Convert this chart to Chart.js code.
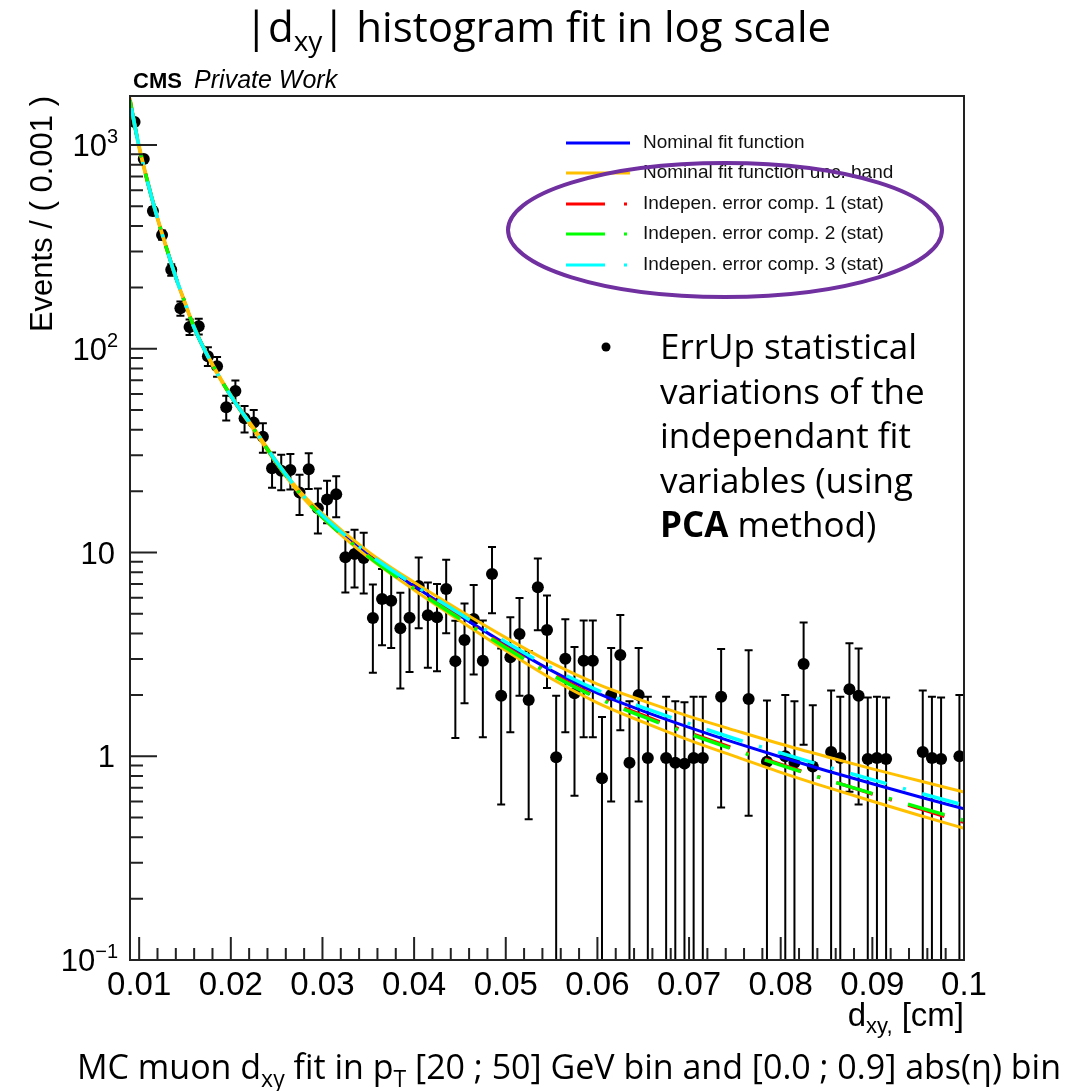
<!DOCTYPE html>
<html>
<head>
<meta charset="utf-8">
<title>|dxy| histogram fit in log scale</title>
<script src="https://cdn.jsdelivr.net/npm/chart.js@4.4.1/dist/chart.umd.min.js"></script>
<style>
  html, body { margin: 0; padding: 0; background: #fff; }
</style>
</head>
<body>
<canvas id="fitChart" width="1081" height="1091"></canvas>
<script>
// non-empty |dxy| bins (bin width 0.001 cm): centre, content, stat. error
const dxyBins = [
    0.0095, 0.0105, 0.0115, 0.0125, 0.0135, 0.0145, 0.0155, 0.0165, 0.0175, 0.0185,
    0.0195, 0.0205, 0.0215, 0.0225, 0.0235, 0.0245, 0.0255, 0.0265, 0.0275, 0.0285,
    0.0295, 0.0305, 0.0315, 0.0325, 0.0335, 0.0345, 0.0355, 0.0365, 0.0375, 0.0385,
    0.0395, 0.0405, 0.0415, 0.0425, 0.0435, 0.0445, 0.0455, 0.0465, 0.0475, 0.0485,
    0.0495, 0.0505, 0.0515, 0.0525, 0.0535, 0.0545, 0.0555, 0.0565, 0.0575, 0.0585,
    0.0595, 0.0605, 0.0615, 0.0625, 0.0635, 0.0645, 0.0655, 0.0675, 0.0685, 0.0695,
    0.0705, 0.0715, 0.0735, 0.0765, 0.0785, 0.0805, 0.0815, 0.0825, 0.0835, 0.0855,
    0.0865, 0.0875, 0.0885, 0.0895, 0.0905, 0.0915, 0.0955, 0.0965, 0.0975, 0.0995
];
const events = [
    1297, 853, 474, 362, 244, 158, 128, 129, 92, 82,
    51.6, 62, 45.6, 43.4, 37, 25.9, 25.2, 25.4, 19.7, 25.6,
    16.5, 18.2, 19.3, 9.47, 9.83, 9.4, 4.77, 5.91, 5.8, 4.25,
    4.79, 6.85, 4.92, 4.81, 6.62, 2.93, 3.72, 4.72, 2.94, 7.84,
    1.98, 3.06, 3.98, 1.89, 6.75, 4.16, 0.99, 3.01, 2.04, 2.94,
    2.94, 0.78, 2.0, 3.14, 0.93, 2.0, 0.98, 0.98, 0.93, 0.92,
    0.98, 0.98, 1.96, 1.91, 0.94, 1.0, 0.93, 2.84, 0.89, 1.05,
    0.98, 2.13, 1.98, 0.97, 0.98, 0.97, 1.05, 0.98, 0.97, 1.0
];
const eventErr = [
    36, 29, 22, 19, 15.6, 12.6, 11.3, 11.4, 9.6, 9.1,
    7.2, 7.9, 6.8, 6.6, 6.1, 5.1, 5.0, 5.0, 4.4, 5.1,
    4.1, 4.3, 4.4, 3.1, 3.1, 3.1, 2.2, 2.4, 2.4, 2.1,
    2.2, 2.6, 2.2, 2.2, 2.6, 1.7, 1.9, 2.2, 1.7, 2.8,
    1.4, 1.75, 2.0, 1.4, 2.6, 2.0, 0.99, 1.7, 1.4, 1.7,
    1.7, 0.78, 1.4, 1.8, 0.93, 1.4, 0.98, 0.98, 0.93, 0.92,
    0.98, 0.98, 1.4, 1.4, 0.94, 1.0, 0.93, 1.7, 0.89, 1.05,
    0.98, 1.46, 1.4, 0.97, 0.98, 0.97, 1.05, 0.98, 0.97, 1.0
];

// fit curves sampled along dxy
const fitX = [0.009, 0.0095, 0.010, 0.011, 0.012, 0.013, 0.014, 0.015, 0.016, 0.0175,
    0.020, 0.0225, 0.025, 0.0275, 0.030, 0.035, 0.040, 0.045, 0.050, 0.055,
    0.060, 0.065, 0.070, 0.075, 0.080, 0.085, 0.090, 0.095, 0.100];
const nominalFit = [1660, 1259, 977, 638, 437, 310, 224, 168, 127, 91.8,
    58.7, 40.5, 27.7, 19.8, 15.1, 9.77, 6.84, 4.90, 3.55, 2.63,
    2.04, 1.667, 1.387, 1.167, 0.991, 0.849, 0.733, 0.635, 0.552];
const bandUp = [1706, 1291, 1000, 650, 444, 315, 226, 170, 129, 92.9,
    59.4, 41.0, 28.1, 20.1, 15.5, 10.1, 7.14, 5.19, 3.82, 2.87,
    2.26, 1.87, 1.57, 1.34, 1.148, 0.995, 0.867, 0.760, 0.667];
const bandDown = [1614, 1227, 955, 627, 430, 306, 221, 166, 126, 90.8,
    58.1, 39.9, 27.2, 19.4, 14.8, 9.46, 6.55, 4.62, 3.30, 2.40,
    1.83, 1.47, 1.20, 0.998, 0.834, 0.705, 0.601, 0.515, 0.443];
const errComp1 = [1660, 1259, 977, 638, 437, 310, 224, 168, 127, 91.8,
    58.7, 40.4, 27.6, 19.7, 14.96, 9.64, 6.71, 4.79, 3.45, 2.54,
    1.957, 1.585, 1.306, 1.087, 0.912, 0.769, 0.653, 0.556, 0.474];
const errComp2 = [1660, 1259, 977, 638, 437, 310, 224, 168, 127, 91.8,
    58.7, 40.4, 27.6, 19.6, 14.9, 9.57, 6.65, 4.73, 3.41, 2.51,
    1.93, 1.563, 1.289, 1.074, 0.904, 0.767, 0.656, 0.563, 0.485];
const errComp3 = [1660, 1259, 977, 638, 437, 310, 224, 168, 127, 91.8,
    58.7, 40.6, 27.8, 19.9, 15.2, 9.88, 6.95, 5.00, 3.64, 2.71,
    2.11, 1.734, 1.446, 1.219, 1.038, 0.889, 0.768, 0.663, 0.575];

// axes
const xTicks = [0.01, 0.02, 0.03, 0.04, 0.05, 0.06, 0.07, 0.08, 0.09, 0.1];
const xTickLabels = ['0.01', '0.02', '0.03', '0.04', '0.05', '0.06', '0.07', '0.08', '0.09', '0.1'];
const yDecades = [0.1, 1, 10, 100, 1000];
const yDecadeLabels = [['10', '\u22121'], ['1', ''], ['10', ''], ['10', '2'], ['10', '3']];

const legendLabels = [
    'Nominal fit function',
    'Nominal fit function unc. band',
    'Indepen. error comp. 1 (stat)',
    'Indepen. error comp. 2 (stat)',
    'Indepen. error comp. 3 (stat)'
];
const noteLines = ['ErrUp statistical', 'variations of the', 'independant fit', 'variables (using', 'method)'];

const ROOT_FONT = '"Liberation Sans", Arial, sans-serif';
const SLIDE_FONT = '"Open Sans", "Noto Sans", sans-serif';
const COMP_DASH = [38, 17, 3, 17];

const pairs = (xs, ys) => xs.map((x, i) => ({ x: x, y: ys[i] }));

// draws a run of text pieces (sub/superscripts as separate pieces)
function drawPieces(ctx, pieces, x, y, align) {
    let width = 0;
    pieces.forEach(p => {
        ctx.font = p.font;
        width += ctx.measureText(p.text).width;
    });
    let cx = align === 'right' ? x - width : align === 'center' ? x - width / 2 : x;
    pieces.forEach(p => {
        ctx.font = p.font;
        ctx.fillText(p.text, cx, y + (p.dy || 0));
        cx += ctx.measureText(p.text).width;
    });
    return width;
}

const errorBars = {
    id: 'errorBars',
    beforeDatasetsDraw(chart) {
        const { ctx, chartArea, scales: { x, y } } = chart;
        ctx.save();
        ctx.beginPath();
        ctx.rect(chartArea.left, chartArea.top, chartArea.right - chartArea.left, chartArea.bottom - chartArea.top);
        ctx.clip();
        ctx.strokeStyle = '#000';
        ctx.lineWidth = 2;
        dxyBins.forEach((bx, i) => {
            const px = x.getPixelForValue(bx);
            const lo = events[i] - eventErr[i];
            const top = y.getPixelForValue(events[i] + eventErr[i]);
            const bottom = lo > 0 ? y.getPixelForValue(lo) : chartArea.bottom;
            ctx.beginPath();
            ctx.moveTo(px, top);
            ctx.lineTo(px, bottom);
            ctx.moveTo(px - 4, top);
            ctx.lineTo(px + 4, top);
            if (lo > 0 && bottom < chartArea.bottom) {
                ctx.moveTo(px - 4, bottom);
                ctx.lineTo(px + 4, bottom);
            }
            ctx.stroke();
        });
        ctx.restore();
    }
};

const frameAndText = {
    id: 'frameAndText',
    afterDatasetsDraw(chart) {
        const { ctx, chartArea, scales: { x, y } } = chart;
        const { left, right, top, bottom } = chartArea;
        ctx.save();

        // frame and inward ticks
        ctx.strokeStyle = '#222';
        ctx.lineWidth = 2;
        ctx.strokeRect(left, top, right - left, bottom - top);
        ctx.beginPath();
        for (let d = -1; d <= 3; d++) {
            for (let m = 1; m <= 9; m++) {
                const v = m * Math.pow(10, d);
                if (v > y.max) continue;
                const py = y.getPixelForValue(v);
                ctx.moveTo(left, py);
                ctx.lineTo(left + (m === 1 ? 27 : 13), py);
            }
        }
        for (let k = 5; k <= 50; k++) {
            const px = x.getPixelForValue(k * 0.002);
            ctx.moveTo(px, bottom);
            ctx.lineTo(px, bottom - (k % 5 === 0 ? 23 : 12));
        }
        ctx.stroke();

        // tick labels
        ctx.fillStyle = '#000';
        ctx.textBaseline = 'alphabetic';
        xTicks.forEach((v, i) => {
            ctx.font = '33px ' + ROOT_FONT;
            ctx.textAlign = 'center';
            ctx.fillText(xTickLabels[i], x.getPixelForValue(v), 995);
        });
        ctx.textAlign = 'left';
        yDecades.forEach((v, i) => {
            const py = y.getPixelForValue(v) + 11;
            const [base, sup] = yDecadeLabels[i];
            drawPieces(ctx, [
                { text: base, font: '31px ' + ROOT_FONT },
                { text: sup, font: '20px ' + ROOT_FONT, dy: -13 }
            ], sup ? 118 : 115, py, 'right');
        });

        // axis titles
        drawPieces(ctx, [
            { text: 'd', font: '33px ' + ROOT_FONT },
            { text: 'xy,', font: '22px ' + ROOT_FONT, dy: 7 },
            { text: ' [cm]', font: '33px ' + ROOT_FONT }
        ], right, 1026, 'right');
        ctx.save();
        ctx.translate(52, top);
        ctx.rotate(-Math.PI / 2);
        ctx.font = '31px ' + ROOT_FONT;
        ctx.textAlign = 'right';
        ctx.fillText('Events / ( 0.001 )', 0, 0);
        ctx.restore();

        // CMS label
        ctx.textAlign = 'left';
        const cmsW = drawPieces(ctx, [{ text: 'CMS  ', font: 'bold 22px ' + ROOT_FONT }], 133, 88, 'left');
        drawPieces(ctx, [{ text: 'Private Work', font: 'italic 25px ' + ROOT_FONT }], 133 + cmsW, 88, 'left');

        // legend
        const rows = [143, 173, 204, 234, 265];
        const colors = ['#0000ff', '#ffc000', '#ff0000', '#00ff00', '#00ffff'];
        ctx.lineWidth = 3;
        rows.forEach((ry, i) => {
            ctx.strokeStyle = colors[i];
            ctx.beginPath();
            if (i < 2) {
                ctx.moveTo(566, ry);
                ctx.lineTo(630, ry);
            } else {
                ctx.moveTo(566, ry);
                ctx.lineTo(605, ry);
                ctx.moveTo(624, ry);
                ctx.lineTo(627, ry);
            }
            ctx.stroke();
            ctx.fillStyle = '#111';
            ctx.font = '19px ' + ROOT_FONT;
            ctx.textBaseline = 'middle';
            ctx.fillText(legendLabels[i], 643, ry);
        });

        // annotation around the error components
        ctx.strokeStyle = '#7030a0';
        ctx.lineWidth = 4;
        ctx.beginPath();
        ctx.ellipse(725, 230, 217, 67, 0, 0, 2 * Math.PI);
        ctx.stroke();

        ctx.fillStyle = '#000';
        ctx.textBaseline = 'alphabetic';
        ctx.beginPath();
        ctx.arc(606, 347, 4.5, 0, 2 * Math.PI);
        ctx.fill();
        noteLines.forEach((line, i) => {
            const ly = 359 + i * 44.5;
            if (i === 4) {
                const w = drawPieces(ctx, [{ text: 'PCA ', font: 'bold 35px ' + SLIDE_FONT }], 660, ly, 'left');
                drawPieces(ctx, [{ text: line, font: '35px ' + SLIDE_FONT }], 660 + w, ly, 'left');
            } else {
                ctx.font = '35px ' + SLIDE_FONT;
                ctx.fillText(line, 660, ly);
            }
        });
        ctx.restore();
    },
    afterDraw(chart) {
        const ctx = chart.ctx;
        ctx.save();
        ctx.fillStyle = '#000';
        ctx.textBaseline = 'alphabetic';
        drawPieces(ctx, [
            { text: '|d', font: '42px ' + SLIDE_FONT },
            { text: 'xy', font: '28px ' + SLIDE_FONT, dy: 9 },
            { text: '| histogram fit in log scale', font: '42px ' + SLIDE_FONT }
        ], 538, 42, 'center');
        drawPieces(ctx, [
            { text: 'MC muon d', font: '34px ' + SLIDE_FONT },
            { text: 'xy', font: '23px ' + SLIDE_FONT, dy: 8 },
            { text: ' fit in p', font: '34px ' + SLIDE_FONT },
            { text: 'T', font: '23px ' + SLIDE_FONT, dy: 8 },
            { text: ' [20 ; 50] GeV bin and [0.0 ; 0.9] abs(\u03b7) bin', font: '34px ' + SLIDE_FONT }
        ], 569, 1079, 'center');
        ctx.restore();
    }
};

const curveStyle = {
    type: 'line',
    pointRadius: 0,
    borderWidth: 3,
    fill: false,
    cubicInterpolationMode: 'monotone'
};

new Chart(document.getElementById('fitChart'), {
    type: 'line',
    data: {
        datasets: [
            { ...curveStyle, label: legendLabels[4], data: pairs(fitX, errComp3), borderColor: '#00ffff', borderWidth: 3.5, borderDash: COMP_DASH, borderDashOffset: -8, order: 0 },
            { ...curveStyle, label: legendLabels[3], data: pairs(fitX, errComp2), borderColor: '#00ff00', borderWidth: 3.5, borderDash: COMP_DASH, order: 1 },
            { ...curveStyle, label: legendLabels[2], data: pairs(fitX, errComp1), borderColor: '#ff0000', borderWidth: 3.5, borderDash: COMP_DASH, order: 2 },
            { ...curveStyle, label: legendLabels[1], data: pairs(fitX, bandUp), borderColor: '#ffc000', order: 3 },
            { ...curveStyle, label: legendLabels[1], data: pairs(fitX, bandDown), borderColor: '#ffc000', order: 3 },
            { ...curveStyle, label: legendLabels[0], data: pairs(fitX, nominalFit), borderColor: '#0000ff', order: 4 },
            {
                type: 'line',
                label: 'MC',
                data: pairs(dxyBins, events),
                showLine: false,
                pointRadius: 6,
                pointBorderWidth: 0,
                pointBackgroundColor: '#000',
                pointBorderColor: '#000',
                order: 5
            }
        ]
    },
    options: {
        responsive: false,
        animation: false,
        layout: { padding: { left: 130, right: 117, top: 96, bottom: 131 } },
        plugins: { legend: { display: false }, tooltip: { enabled: false } },
        scales: {
            x: { type: 'linear', min: 0.009, max: 0.1, display: false },
            y: { type: 'logarithmic', min: 0.1, max: 1740, display: false }
        }
    },
    plugins: [errorBars, frameAndText]
});
</script>
</body>
</html>
